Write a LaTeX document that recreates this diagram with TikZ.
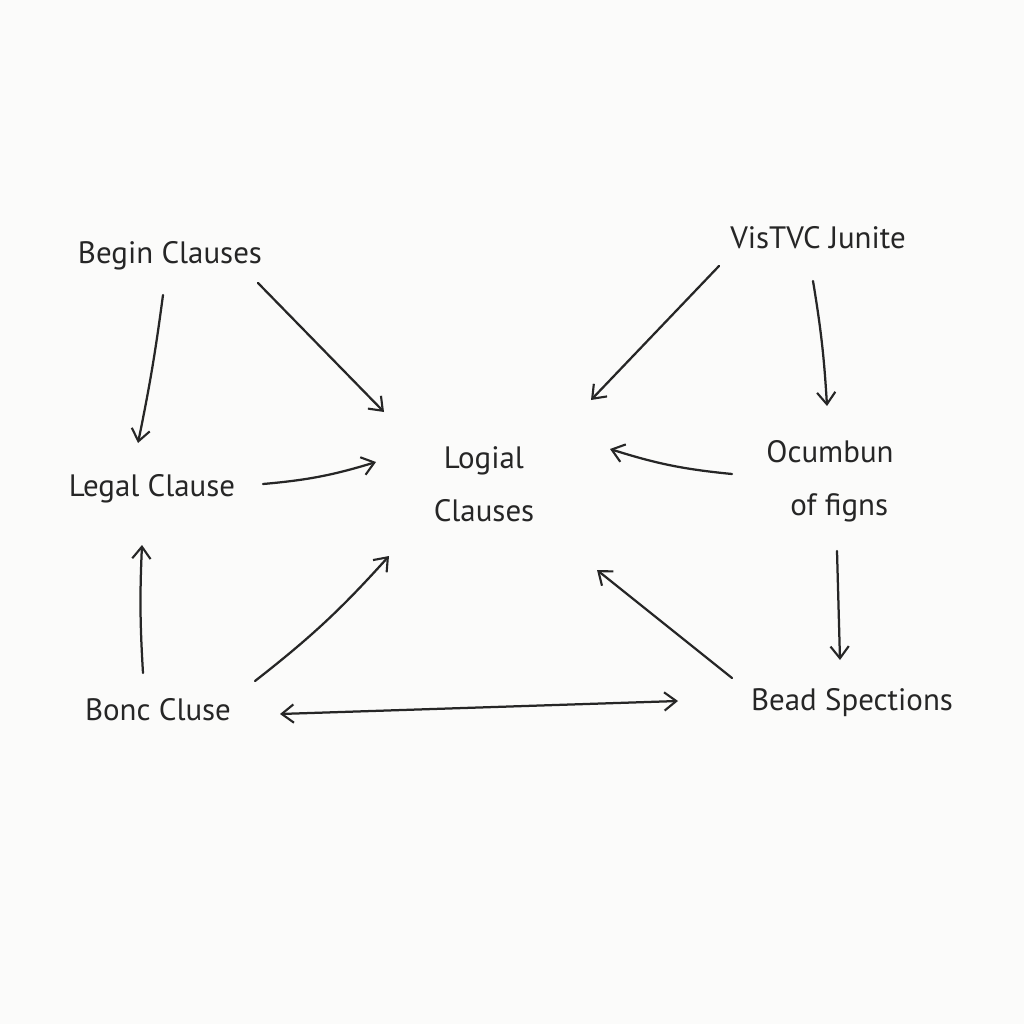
\documentclass[tikz,border=0pt]{standalone}
\usepackage{fontspec}
\setmainfont{PT Sans}
\usetikzlibrary{arrows.meta,calc}
\definecolor{bg}{HTML}{FBFBFA}
\definecolor{ink}{HTML}{262626}
\tikzset{
  lbl/.style={text=ink, inner sep=0pt, align=center, font=\fontsize{22}{38}\selectfont},
  tip/.style={Straight Barb[length=8.5pt,width=13pt,line width=1.5pt]},
  arr/.style={draw=ink, line width=1.6pt, line cap=round, -{Straight Barb[length=8.5pt,width=13pt,line width=1.5pt]}},
  darr/.style={arr, {Straight Barb[length=8.5pt,width=13pt,line width=1.5pt]}-{Straight Barb[length=8.5pt,width=13pt,line width=1.5pt]}}
}
\begin{document}
\begin{tikzpicture}[x=0.025cm,y=-0.025cm]
\fill[bg] (0,0) rectangle (1024,1024);
\useasboundingbox (0,0) rectangle (1024,1024);
\node[lbl] (begin) at (170,256) {Begin Clauses};
\node[lbl] (vis) at (818,238) {VisTVC Junite};
\node[lbl] (logial) at (484,484) {Logial\\Clauses};
\node[lbl] (legal) at (152,489) {Legal Clause};
\node[lbl] (ocum) at (830,481) {Ocumbun\\\hspace*{0.6em}of figns};
\node[lbl] (bonc) at (158,710) {Bonc Cluse};
\node[lbl] (bead) at (852,703) {Bead Spections};

\draw[arr] ($(begin)+(-7,39)$) to[bend left=2] ($(legal)+(-14,-46)$);
\draw[arr] ($(begin)+(88,27)$) to ($(logial)+(-100,-72)$);
\draw[arr] ($(legal)+(111,-5)$) to[bend right=6] ($(logial)+(-108,-22)$);
\draw[arr] ($(bonc)+(-15,-37)$) to[bend left=3] ($(legal)+(-10,56)$);
\draw[arr] ($(bonc)+(97,-29)$) to[bend right=5] ($(logial)+(-95,72)$);
\draw[darr] ($(bonc)+(122,4)$) to ($(bead)+(-174,-2)$);
\draw[arr] ($(vis)+(-99,28)$) to ($(logial)+(107,-84)$);
\draw[arr] ($(vis)+(-5,43)$) to[bend left=3] ($(ocum)+(-3,-75)$);
\draw[arr] ($(ocum)+(-98,-7)$) to[bend left=6] ($(logial)+(126,-35)$);
\draw[arr] ($(ocum)+(7,70)$) to ($(bead)+(-12,-43)$);
\draw[arr] ($(bead)+(-120,-25)$) to ($(logial)+(113,86)$);
\end{tikzpicture}
\end{document}
